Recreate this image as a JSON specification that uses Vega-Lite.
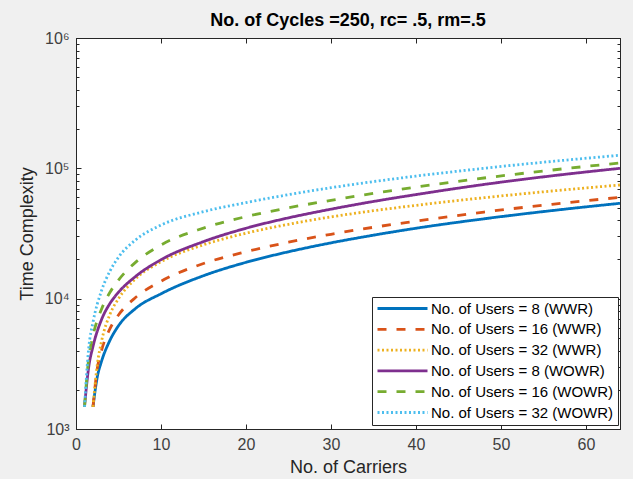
{
  "$schema": "https://vega.github.io/schema/vega-lite/v6.json",
  "width": 544,
  "height": 391,
  "autosize": {"type": "none"},
  "padding": {"left": 76, "top": 38, "right": 13, "bottom": 50},
  "background": "#f0f0f0",
  "title": {"text": "No. of Cycles =250, rc= .5, rm=.5", "font": "Liberation Sans", "fontSize": 18, "fontWeight": "bold", "color": "#000000", "offset": 0, "anchor": "middle"},
  "config": {
    "view": {"fill": "white", "stroke": "#262626", "strokeWidth": 1},
    "font": "Liberation Sans",
    "axis": {"grid": false, "domainColor": "#262626", "tickColor": "#262626", "labelColor": "#404040", "labelFontSize": 16, "titleFontSize": 18, "titleFontWeight": "normal", "titleColor": "#262626", "labelFont": "Liberation Sans", "titleFont": "Liberation Sans"}
  },
  "data": {"values": [
    {"s": "No. of Users = 8 (WWR)", "x": 2, "y": 1480},
    {"s": "No. of Users = 8 (WWR)", "x": 2.5, "y": 2500},
    {"s": "No. of Users = 8 (WWR)", "x": 3, "y": 3300},
    {"s": "No. of Users = 8 (WWR)", "x": 4, "y": 4800},
    {"s": "No. of Users = 8 (WWR)", "x": 5, "y": 6200},
    {"s": "No. of Users = 8 (WWR)", "x": 7, "y": 8400},
    {"s": "No. of Users = 8 (WWR)", "x": 10, "y": 10900},
    {"s": "No. of Users = 8 (WWR)", "x": 15, "y": 15000},
    {"s": "No. of Users = 8 (WWR)", "x": 20, "y": 19000},
    {"s": "No. of Users = 8 (WWR)", "x": 25, "y": 22900},
    {"s": "No. of Users = 8 (WWR)", "x": 30, "y": 26800},
    {"s": "No. of Users = 8 (WWR)", "x": 35, "y": 30700},
    {"s": "No. of Users = 8 (WWR)", "x": 40, "y": 34700},
    {"s": "No. of Users = 8 (WWR)", "x": 48, "y": 41000},
    {"s": "No. of Users = 8 (WWR)", "x": 56, "y": 47400},
    {"s": "No. of Users = 8 (WWR)", "x": 64, "y": 53900},
    {"s": "No. of Users = 16 (WWR)", "x": 2, "y": 1480},
    {"s": "No. of Users = 16 (WWR)", "x": 2.5, "y": 2900},
    {"s": "No. of Users = 16 (WWR)", "x": 3, "y": 4000},
    {"s": "No. of Users = 16 (WWR)", "x": 4, "y": 5900},
    {"s": "No. of Users = 16 (WWR)", "x": 5, "y": 7500},
    {"s": "No. of Users = 16 (WWR)", "x": 7, "y": 10200},
    {"s": "No. of Users = 16 (WWR)", "x": 10, "y": 13600},
    {"s": "No. of Users = 16 (WWR)", "x": 15, "y": 18600},
    {"s": "No. of Users = 16 (WWR)", "x": 20, "y": 22900},
    {"s": "No. of Users = 16 (WWR)", "x": 25, "y": 27100},
    {"s": "No. of Users = 16 (WWR)", "x": 30, "y": 31200},
    {"s": "No. of Users = 16 (WWR)", "x": 35, "y": 35300},
    {"s": "No. of Users = 16 (WWR)", "x": 40, "y": 39300},
    {"s": "No. of Users = 16 (WWR)", "x": 48, "y": 46200},
    {"s": "No. of Users = 16 (WWR)", "x": 56, "y": 53000},
    {"s": "No. of Users = 16 (WWR)", "x": 64, "y": 59900},
    {"s": "No. of Users = 32 (WWR)", "x": 2, "y": 1480},
    {"s": "No. of Users = 32 (WWR)", "x": 2.5, "y": 3100},
    {"s": "No. of Users = 32 (WWR)", "x": 3, "y": 4700},
    {"s": "No. of Users = 32 (WWR)", "x": 4, "y": 7600},
    {"s": "No. of Users = 32 (WWR)", "x": 5, "y": 10000},
    {"s": "No. of Users = 32 (WWR)", "x": 7, "y": 14200},
    {"s": "No. of Users = 32 (WWR)", "x": 10, "y": 19200},
    {"s": "No. of Users = 32 (WWR)", "x": 15, "y": 25900},
    {"s": "No. of Users = 32 (WWR)", "x": 20, "y": 31800},
    {"s": "No. of Users = 32 (WWR)", "x": 25, "y": 37200},
    {"s": "No. of Users = 32 (WWR)", "x": 30, "y": 42400},
    {"s": "No. of Users = 32 (WWR)", "x": 35, "y": 47300},
    {"s": "No. of Users = 32 (WWR)", "x": 40, "y": 52000},
    {"s": "No. of Users = 32 (WWR)", "x": 48, "y": 59500},
    {"s": "No. of Users = 32 (WWR)", "x": 56, "y": 67000},
    {"s": "No. of Users = 32 (WWR)", "x": 64, "y": 74500},
    {"s": "No. of Users = 8 (WOWR)", "x": 1, "y": 1480},
    {"s": "No. of Users = 8 (WOWR)", "x": 1.5, "y": 3000},
    {"s": "No. of Users = 8 (WOWR)", "x": 2, "y": 4300},
    {"s": "No. of Users = 8 (WOWR)", "x": 3, "y": 6900},
    {"s": "No. of Users = 8 (WOWR)", "x": 4, "y": 9200},
    {"s": "No. of Users = 8 (WOWR)", "x": 5, "y": 11200},
    {"s": "No. of Users = 8 (WOWR)", "x": 7, "y": 14800},
    {"s": "No. of Users = 8 (WOWR)", "x": 10, "y": 19900},
    {"s": "No. of Users = 8 (WOWR)", "x": 15, "y": 27400},
    {"s": "No. of Users = 8 (WOWR)", "x": 20, "y": 34700},
    {"s": "No. of Users = 8 (WOWR)", "x": 25, "y": 41700},
    {"s": "No. of Users = 8 (WOWR)", "x": 30, "y": 48600},
    {"s": "No. of Users = 8 (WOWR)", "x": 35, "y": 55700},
    {"s": "No. of Users = 8 (WOWR)", "x": 40, "y": 62900},
    {"s": "No. of Users = 8 (WOWR)", "x": 48, "y": 75200},
    {"s": "No. of Users = 8 (WOWR)", "x": 56, "y": 87600},
    {"s": "No. of Users = 8 (WOWR)", "x": 64, "y": 100000},
    {"s": "No. of Users = 16 (WOWR)", "x": 1, "y": 1480},
    {"s": "No. of Users = 16 (WOWR)", "x": 1.5, "y": 3500},
    {"s": "No. of Users = 16 (WOWR)", "x": 2, "y": 5200},
    {"s": "No. of Users = 16 (WOWR)", "x": 3, "y": 8300},
    {"s": "No. of Users = 16 (WOWR)", "x": 4, "y": 11200},
    {"s": "No. of Users = 16 (WOWR)", "x": 5, "y": 13900},
    {"s": "No. of Users = 16 (WOWR)", "x": 7, "y": 19000},
    {"s": "No. of Users = 16 (WOWR)", "x": 10, "y": 25800},
    {"s": "No. of Users = 16 (WOWR)", "x": 15, "y": 34800},
    {"s": "No. of Users = 16 (WOWR)", "x": 20, "y": 42600},
    {"s": "No. of Users = 16 (WOWR)", "x": 25, "y": 49800},
    {"s": "No. of Users = 16 (WOWR)", "x": 30, "y": 56800},
    {"s": "No. of Users = 16 (WOWR)", "x": 35, "y": 64200},
    {"s": "No. of Users = 16 (WOWR)", "x": 40, "y": 71800},
    {"s": "No. of Users = 16 (WOWR)", "x": 48, "y": 84300},
    {"s": "No. of Users = 16 (WOWR)", "x": 56, "y": 97000},
    {"s": "No. of Users = 16 (WOWR)", "x": 64, "y": 110000},
    {"s": "No. of Users = 32 (WOWR)", "x": 1, "y": 1480},
    {"s": "No. of Users = 32 (WOWR)", "x": 1.5, "y": 4200},
    {"s": "No. of Users = 32 (WOWR)", "x": 2, "y": 6600},
    {"s": "No. of Users = 32 (WOWR)", "x": 3, "y": 11500},
    {"s": "No. of Users = 32 (WOWR)", "x": 4, "y": 16300},
    {"s": "No. of Users = 32 (WOWR)", "x": 5, "y": 20800},
    {"s": "No. of Users = 32 (WOWR)", "x": 7, "y": 28200},
    {"s": "No. of Users = 32 (WOWR)", "x": 10, "y": 36700},
    {"s": "No. of Users = 32 (WOWR)", "x": 15, "y": 46500},
    {"s": "No. of Users = 32 (WOWR)", "x": 20, "y": 54600},
    {"s": "No. of Users = 32 (WOWR)", "x": 25, "y": 62800},
    {"s": "No. of Users = 32 (WOWR)", "x": 30, "y": 71000},
    {"s": "No. of Users = 32 (WOWR)", "x": 35, "y": 79100},
    {"s": "No. of Users = 32 (WOWR)", "x": 40, "y": 87200},
    {"s": "No. of Users = 32 (WOWR)", "x": 48, "y": 100100},
    {"s": "No. of Users = 32 (WOWR)", "x": 56, "y": 113000},
    {"s": "No. of Users = 32 (WOWR)", "x": 64, "y": 126000}
  ]},
  "layer": [
    {
      "mark": {"type": "line", "strokeWidth": 2.8, "interpolate": "monotone", "clip": true},
      "encoding": {
        "x": {"field": "x", "type": "quantitative", "scale": {"domain": [0, 64], "nice": false, "zero": false},
          "axis": {"orient": "bottom", "values": [0, 10, 20, 30, 40, 50, 60], "title": "No. of Carriers", "tickSize": -5, "labelPadding": 12, "labelFlush": false, "titlePadding": 6}},
        "y": {"field": "y", "type": "quantitative", "scale": {"type": "log", "domain": [1000, 1000000], "nice": false},
          "axis": {"orient": "left", "title": "Time Complexity",
            "values": [1000, 2000, 3000, 4000, 5000, 6000, 7000, 8000, 9000, 10000, 20000, 30000, 40000, 50000, 60000, 70000, 80000, 90000, 100000, 200000, 300000, 400000, 500000, 600000, 700000, 800000, 900000, 1000000],
            "labelExpr": "datum.value == 1000 ? '10³' : datum.value == 10000 ? '10⁴' : datum.value == 100000 ? '10⁵' : datum.value == 1000000 ? '10⁶' : ''",
            "tickSize": {"condition": {"test": "indexof([1000,10000,100000,1000000], datum.value) >= 0", "value": -5}, "value": -3},
            "labelPadding": 12, "labelFlush": false, "titlePadding": 8}},
        "color": {"field": "s", "type": "nominal",
          "scale": {"domain": ["No. of Users = 8 (WWR)", "No. of Users = 16 (WWR)", "No. of Users = 32 (WWR)", "No. of Users = 8 (WOWR)", "No. of Users = 16 (WOWR)", "No. of Users = 32 (WOWR)"],
            "range": ["#0072BD", "#D95319", "#EDB120", "#7E2F8E", "#77AC30", "#4DBEEE"]},
          "legend": {"orient": "none", "legendX": 296, "legendY": 259, "title": null, "symbolType": "stroke", "symbolSize": 2500, "symbolStrokeWidth": 2.8, "clipHeight": 15, "rowPadding": 4.8, "padding": 4, "labelOffset": 2, "labelFontSize": 15, "labelColor": "#000000", "labelLimit": 400, "strokeColor": "#262626", "fillColor": "#ffffff", "cornerRadius": 0, "labelFont": "Liberation Sans"}},
        "strokeDash": {"field": "s", "type": "nominal",
          "scale": {"domain": ["No. of Users = 8 (WWR)", "No. of Users = 16 (WWR)", "No. of Users = 32 (WWR)", "No. of Users = 8 (WOWR)", "No. of Users = 16 (WOWR)", "No. of Users = 32 (WOWR)"],
            "range": [[1, 0], [9, 10], [2, 2.5], [1, 0], [9, 10], [2, 2.5]]},
          "legend": {"orient": "none", "legendX": 296, "legendY": 259, "title": null, "symbolType": "stroke", "symbolSize": 2500, "symbolStrokeWidth": 2.8, "clipHeight": 15, "rowPadding": 4.8, "padding": 4, "labelOffset": 2, "labelFontSize": 15, "labelColor": "#000000", "labelLimit": 400, "strokeColor": "#262626", "fillColor": "#ffffff", "cornerRadius": 0, "labelFont": "Liberation Sans"}}
      }
    },
    {
      "mark": {"type": "point", "opacity": 0},
      "encoding": {
        "x": {"field": "x", "type": "quantitative", "axis": {"orient": "top", "values": [0, 10, 20, 30, 40, 50, 60], "labels": false, "title": null, "tickSize": -5}},
        "y": {"field": "y", "type": "quantitative",
          "axis": {"orient": "right", "labels": false, "title": null,
            "values": [1000, 2000, 3000, 4000, 5000, 6000, 7000, 8000, 9000, 10000, 20000, 30000, 40000, 50000, 60000, 70000, 80000, 90000, 100000, 200000, 300000, 400000, 500000, 600000, 700000, 800000, 900000, 1000000],
            "tickSize": {"condition": {"test": "indexof([1000,10000,100000,1000000], datum.value) >= 0", "value": -5}, "value": -3}}}
      }
    }
  ],
  "resolve": {"axis": {"x": "independent", "y": "independent"}}
}
